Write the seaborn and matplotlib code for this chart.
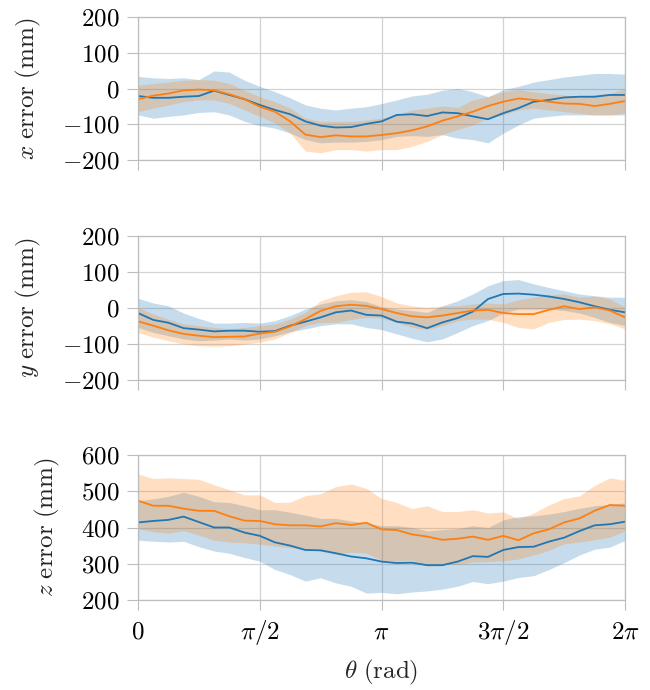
import numpy as np
import pandas as pd
import matplotlib
matplotlib.use("Agg")
import matplotlib.pyplot as plt
import matplotlib.ticker as mticker
import seaborn as sns

# ---------------- data ----------------
theta = np.linspace(0, 2 * np.pi, 33)

x_blue_mean = [-21, -26, -26, -23, -21, -6, -18, -30, -46, -60, -72, -92, -104, -109, -108, -99, -92,
               -74, -72, -77, -67, -69, -78, -86, -69, -55, -37, -32, -25, -23, -23, -18, -18]
x_blue_lo = [-74, -83, -78, -74, -67, -65, -74, -92, -104, -111, -125, -143, -152, -150, -150, -148, -143,
             -134, -132, -134, -129, -139, -143, -152, -125, -102, -83, -78, -74, -74, -74, -74, -74]
x_blue_hi = [34, 30, 28, 30, 25, 49, 46, 23, 6, -9, -26, -46, -55, -60, -55, -51, -42,
             -32, -21, -16, -5, 0, -9, -23, -3, 6, 18, 25, 32, 37, 42, 42, 40]
x_orange_mean = [-30, -20, -14, -5, -3, -5, -16, -30, -51, -65, -92, -129, -136, -131, -134, -134, -130,
                 -125, -117, -106, -90, -78, -65, -49, -37, -28, -32, -37, -42, -43, -49, -43, -35]
x_orange_lo = [-65, -55, -46, -37, -32, -32, -42, -60, -78, -97, -125, -175, -180, -171, -171, -175, -171,
               -171, -162, -148, -129, -115, -102, -83, -74, -60, -55, -60, -65, -69, -74, -74, -69]
x_orange_hi = [9, 14, 18, 23, 25, 23, 14, -5, -23, -37, -55, -83, -92, -92, -92, -88, -83,
               -74, -60, -55, -49, -53, -32, -23, -9, -3, -9, -14, -18, -23, -18, -14, 0]

y_blue_mean = [-14, -33, -41, -56, -60, -65, -63, -63, -66, -64, -49, -38, -26, -12, -7, -19, -21,
               -38, -43, -56, -40, -28, -10, 25, 39, 40, 37, 32, 25, 16, 5, -5, -12]
y_blue_lo = [-54, -68, -77, -86, -91, -89, -86, -89, -86, -77, -66, -58, -49, -44, -44, -54, -60,
             -72, -84, -94, -86, -68, -49, -35, -14, -3, -3, -3, -7, -14, -26, -40, -49]
y_blue_hi = [27, 14, 6, -14, -29, -42, -42, -40, -42, -35, -21, -3, 11, 20, 23, 18, 4,
             -3, -7, -12, 6, 20, 39, 62, 76, 79, 67, 57, 48, 39, 34, 30, 30]
y_orange_mean = [-37, -49, -62, -72, -77, -81, -80, -79, -71, -66, -51, -31, -8, 5, 9, 6, -3,
                 -14, -23, -26, -21, -14, -7, -5, -14, -17, -17, -5, 5, -3, 2, -7, -26]
y_orange_lo = [-68, -81, -91, -100, -105, -106, -105, -100, -95, -86, -68, -49, -40, -40, -32, -26, -28,
               -40, -54, -60, -49, -35, -31, -31, -40, -54, -58, -40, -32, -31, -35, -44, -58]
y_orange_hi = [2, -17, -31, -44, -49, -54, -58, -54, -49, -44, -31, -12, 20, 34, 44, 45, 32,
               14, 6, 2, 5, 6, 11, 14, 11, 23, 30, 36, 39, 30, 33, 25, 2]

z_blue_mean = [414, 418, 421, 430, 415, 400, 400, 386, 377, 359, 350, 338, 337, 329, 320, 315, 306,
               302, 303, 296, 296, 306, 321, 319, 338, 346, 347, 361, 372, 390, 406, 409, 416]
z_blue_lo = [365, 362, 360, 362, 347, 335, 329, 317, 307, 284, 270, 252, 261, 247, 238, 219, 221,
             217, 222, 225, 230, 238, 251, 245, 252, 262, 267, 284, 303, 324, 340, 346, 364]
z_blue_hi = [474, 479, 486, 497, 486, 471, 469, 460, 449, 449, 442, 434, 425, 425, 418, 412, 405,
             405, 400, 391, 394, 397, 405, 400, 421, 430, 432, 437, 444, 453, 460, 464, 468]
z_orange_mean = [474, 460, 460, 452, 446, 446, 431, 419, 418, 409, 406, 406, 403, 412, 407, 413, 395,
                 393, 381, 375, 366, 369, 375, 366, 377, 365, 384, 395, 414, 425, 446, 462, 460]
z_orange_lo = [397, 388, 384, 391, 379, 365, 360, 358, 354, 349, 344, 340, 335, 326, 332, 329, 310,
               307, 310, 294, 299, 298, 305, 306, 308, 313, 324, 337, 355, 360, 366, 373, 391]
z_orange_hi = [548, 535, 537, 535, 533, 518, 504, 490, 490, 469, 470, 488, 493, 513, 520, 508, 480,
               469, 452, 460, 444, 444, 449, 440, 443, 424, 440, 462, 480, 487, 516, 537, 530]

series_names = ["blue", "orange"]
panel_labels = [r"$x\ \mathrm{error}\ \mathrm{(mm)}$",
                r"$y\ \mathrm{error}\ \mathrm{(mm)}$",
                r"$z\ \mathrm{error}\ \mathrm{(mm)}$"]
x_tick_vals = [0, np.pi / 2, np.pi, 3 * np.pi / 2, 2 * np.pi]
x_tick_labels = [r"$0$", r"$\pi/2$", r"$\pi$", r"$3\pi/2$", r"$2\pi$"]
y_ticks = [[-200, -100, 0, 100, 200], [-200, -100, 0, 100, 200], [200, 300, 400, 500, 600]]
x_label = r"$\theta\ \mathrm{(rad)}$"

panels = [
    (x_blue_mean, x_blue_lo, x_blue_hi, x_orange_mean, x_orange_lo, x_orange_hi),
    (y_blue_mean, y_blue_lo, y_blue_hi, y_orange_mean, y_orange_lo, y_orange_hi),
    (z_blue_mean, z_blue_lo, z_blue_hi, z_orange_mean, z_orange_lo, z_orange_hi),
]

# ---------------- style ----------------
sns.set_theme(style="whitegrid")
FS = 18
plt.rcParams.update({
    "font.family": "serif",
    "font.serif": ["cmr10"],
    "mathtext.fontset": "cm",
    "axes.unicode_minus": True,
    "font.size": FS,
})

BLUE = "#1f77b4"
ORANGE = "#ff7f0e"
GRID = "#d3d3d3"
SPINE = "#bdbdbd"

fig = plt.figure(figsize=(6.5, 6.9), dpi=100)
W, H = 650.0, 690.0
left, right = 138, 625
rows = [(17, 160), (236, 380), (455, 600)]

for i, (data, (top, bot)) in enumerate(zip(panels, rows)):
    ax = fig.add_axes([left / W, 1 - bot / H, (right - left) / W, (bot - top) / H])
    bm, bl, bh, om, ol, oh = data
    ax.fill_between(theta, bl, bh, color=BLUE, alpha=0.25, lw=0)
    ax.fill_between(theta, ol, oh, color=ORANGE, alpha=0.25, lw=0)
    df = pd.DataFrame({
        "theta": np.concatenate([theta, theta]),
        "value": np.concatenate([bm, om]),
        "series": [series_names[0]] * len(theta) + [series_names[1]] * len(theta),
    })
    sns.lineplot(data=df, x="theta", y="value", hue="series",
                 palette=[BLUE, ORANGE], legend=False, ax=ax, lw=1.3)
    ax.set_xlim(0, 2 * np.pi)
    ax.set_ylim(y_ticks[i][0], y_ticks[i][-1])
    ax.set_yticks(y_ticks[i])
    ax.yaxis.set_major_formatter(mticker.FuncFormatter(lambda v, p: r"$%d$" % int(round(v))))
    ax.set_xticks(x_tick_vals)
    if i == 2:
        ax.set_xticklabels(x_tick_labels)
        for lab in ax.get_xticklabels():
            lab.set_verticalalignment("baseline")
        ax.tick_params(axis="x", pad=21)
        ax.set_xlabel(x_label, fontsize=FS, labelpad=8)
    else:
        ax.set_xticklabels([])
        ax.set_xlabel("")
    ax.set_ylabel(panel_labels[i], fontsize=FS, labelpad=14)
    ax.tick_params(axis="both", labelsize=FS, colors="black")
    ax.tick_params(axis="x", direction="out", length=7, width=0.8, color=SPINE, bottom=True)
    ax.tick_params(axis="y", direction="out", length=8, width=0.8, color=SPINE, left=True, pad=5)
    ax.grid(True, color=GRID, lw=0.9)
    for s in ax.spines.values():
        s.set_color(SPINE)
        s.set_linewidth(0.9)

fig.savefig("out.png", dpi=100)
